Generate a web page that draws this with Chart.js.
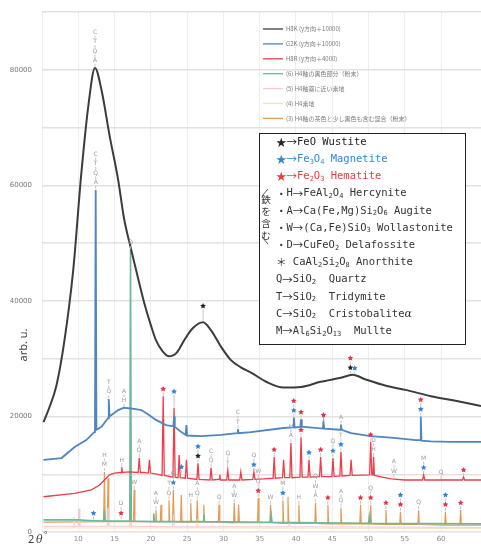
<!DOCTYPE html>
<html>
<head>
<meta charset="utf-8">
<style>html,body{margin:0;padding:0;background:#fff;overflow:hidden}</style>
<script src="https://cdn.jsdelivr.net/npm/chart.js@4.4.1/dist/chart.umd.min.js"></script>
</head>
<body>
<canvas id="xrd" width="481" height="547"></canvas>
<script>
// x = 2θ (deg), y = intensity (arb. u.)
var h8k = [[5.2,19000],[6.0,21500],[7.0,25400],[8.1,33200],[9.3,45300],[10.4,61800],[11.4,73900],[12.3,80300],[13.2,76500],[14.3,68700],[15.5,60900],[16.3,54300],[17.3,48800],[18.3,43600],[19.1,39600],[20.0,35800],[20.7,33200],[21.6,31300],[22.5,30400],[23.6,31100],[24.6,33200],[25.8,35300],[27.2,36300],[28.3,34900],[29.7,32000],[31.0,29800],[32.4,28500],[33.8,27600],[35.9,26000],[38.3,25000],[40.7,25100],[43.4,26000],[46.2,26700],[47.8,27200],[49.6,26400],[52.4,25300],[55.1,24600],[58.6,23500],[62.0,22700],[65.5,21800]];

var g2k = [[5.2,12500],[7.7,12800],[9.5,14700],[11.1,15900],[12.2,17300],[12.3,17400],[12.4,59200],[12.5,17700],[13.2,18200],[14.1,19700],[14.2,23000],[14.3,20000],[15.5,21100],[16.3,21500],[17.7,21300],[18.7,21100],[19.8,20200],[20.7,19400],[22.1,18500],[23.1,18300],[23.2,20000],[23.3,18200],[24.2,17300],[24.8,16800],[24.9,18500],[25.0,16700],[26.9,16600],[29.7,16800],[31.9,17100],[32.0,17800],[32.1,17100],[33.8,17300],[38.3,18000],[39.6,18100],[39.7,19800],[39.8,18100],[40.6,18200],[40.7,19500],[40.8,18200],[41.1,18200],[43.7,17900],[43.8,19000],[43.9,17900],[46.1,17700],[46.2,18600],[46.3,17700],[47.6,17100],[50.3,16600],[53.5,16300],[56.5,15900],[57.1,15900],[57.2,20000],[57.3,15800],[58.6,15700],[61.3,15600],[65.5,15600]];

var h8r = [[5.2,6100],[9.5,6700],[11.8,7300],[12.9,8100],[13.6,9000],[14.3,9900],[15.0,10200],[15.9,10300],[16.0,11200],[16.1,10300],[17.0,10400],[18.25,10300],[18.4,12800],[18.55,10300],[19.0,10300],[19.65,10200],[19.8,12500],[19.95,10200],[20.8,10000],[21.55,9800],[21.7,23500],[21.85,9800],[23.05,9500],[23.2,21500],[23.35,9500],[23.75,9400],[23.9,13300],[24.05,9400],[24.75,9300],[24.9,12500],[25.05,9300],[26.35,9100],[26.5,11900],[26.65,9100],[28.15,9000],[28.3,11100],[28.45,9000],[29.4,9100],[29.5,9900],[29.6,9000],[30.45,9000],[30.6,10700],[30.75,9000],[32.25,9000],[32.4,10400],[32.55,9000],[34.05,9100],[34.2,10400],[34.35,9100],[35.5,9200],[36.85,9300],[37.0,13000],[37.15,9300],[38.15,9400],[38.3,12500],[38.45,9400],[39.15,9400],[39.3,15400],[39.45,9400],[40.55,9500],[40.7,16400],[40.85,9500],[41.65,9500],[41.8,12500],[41.95,9500],[43.25,9600],[43.4,13000],[43.55,9600],[44.95,9600],[45.1,12800],[45.25,9600],[46.05,9700],[46.2,13900],[46.35,9700],[47.45,9800],[47.6,12500],[47.75,9800],[50.15,9900],[50.3,15600],[50.45,9900],[50.6,9900],[50.7,13000],[50.8,9800],[53.1,9200],[55.0,9000],[57.45,9000],[57.6,9900],[57.75,9000],[62.95,9000],[63.1,9500],[63.25,9000],[65.5,9000]];

var h4Black = [[5.2,2100],[10.0,2100],[11.5,2000],[13.5,1900],[13.6,3800],[13.7,1900],[17.1,1900],[17.2,48800],[17.3,1900],[20.3,1800],[20.4,3200],[20.5,1800],[27.2,1800],[27.3,3000],[27.4,1800],[36.5,1700],[36.6,2800],[36.7,1700],[50.0,1500],[50.1,2600],[50.2,1500],[65.5,1400]];

var h4Near = [[5.2,1000],[10.0,1000],[10.1,4000],[10.2,1000],[14.0,1000],[14.1,4200],[14.2,1000],[17.1,1000],[17.2,6500],[17.3,1000],[23.0,900],[23.1,3000],[23.2,900],[39.0,900],[39.1,2200],[39.2,900],[65.5,800]];

var h4Base = [[5.2,700],[9.3,700],[9.4,2600],[9.5,700],[17.1,700],[17.2,4200],[17.3,700],[26.3,700],[26.4,2200],[26.5,700],[65.5,600]];

var h4Mix = [[5.2,1700],[13.5,1800],[13.6,10400],[13.7,1800],[14.0,1800],[14.1,9300],[14.2,1800],[17.1,1800],[17.2,15900],[17.3,1800],[17.6,1800],[17.7,7300],[17.8,1800],[20.6,1800],[20.7,3800],[20.8,1800],[21.3,1800],[21.4,4700],[21.5,1800],[22.4,1800],[22.5,5500],[22.6,1800],[23.0,1800],[23.1,7300],[23.2,1800],[24.1,1700],[24.2,6400],[24.3,1700],[25.4,1700],[25.5,5000],[25.6,1700],[26.3,1700],[26.4,5500],[26.5,1700],[27.2,1700],[27.3,4700],[27.4,1700],[29.3,1700],[29.4,4700],[29.5,1700],[31.4,1600],[31.5,5000],[31.6,1600],[32.0,1600],[32.1,4700],[32.2,1600],[34.7,1600],[34.8,5900],[34.9,1600],[36.4,1600],[36.5,4700],[36.6,1600],[38.1,1500],[38.2,5500],[38.3,1500],[38.8,1500],[38.9,6100],[39.0,1500],[40.3,1500],[40.4,4700],[40.5,1500],[42.6,1500],[42.7,5000],[42.8,1500],[44.3,1400],[44.4,4700],[44.5,1400],[46.1,1400],[46.2,4200],[46.3,1400],[48.8,1400],[48.9,4700],[49.0,1400],[50.2,1400],[50.3,4700],[50.4,1400],[52.3,1300],[52.4,3800],[52.5,1300],[54.3,1300],[54.4,3500],[54.5,1300],[56.8,1300],[56.9,3800],[57.0,1300],[60.5,1200],[60.6,3500],[60.7,1200],[62.6,1200],[62.7,3800],[62.8,1200],[65.5,1200]];

var seriesNames = ["H8K (y方向＋10000)", "G2K (y方向＋10000)", "H8R (y方向＋4000)", "(6) H4釉の黒色部分（粉末）", "(5) H4釉薬に近い素地", "(4) H4素地", "(3) H4釉の茶色と少し黒色も含む混合（粉末）"];
var seriesColors = ["#3c3c3c", "#4f86c0", "#ee3d4c", "#6cb899", "#f2c9cf", "#f3e2b5", "#e59a55"];
var seriesWidths = [2, 1.8, 1.3, 1.6, 1, 1, 1.2];
var seriesData = [h8k, g2k, h8r, h4Black, h4Near, h4Base, h4Mix];

// peak identification tags: [2θ, peak top, tags from bottom to top]; *k *b *r = stars
var peakTags = [
  [12.3, 80300, ["A", "Q", "T", "C"]],
  [27.2, 36300, ["|", "*k"]],
  [47.5, 27200, ["*k", "*r"]],
  [48.1, 27100, ["*b"]],
  [12.4, 59200, ["A", "Q", "T", "C"]],
  [14.2, 23000, ["Q", "T"]],
  [16.3, 21500, ["H", "A"]],
  [17.2, 48800, ["Q"]],
  [23.2, 21500, ["|", "*b"]],
  [32.0, 17800, ["T", "C"]],
  [39.7, 19800, ["*b", "*r"]],
  [40.7, 19500, ["*r"]],
  [43.8, 19000, ["*r"]],
  [46.2, 18600, ["A"]],
  [57.2, 20000, ["*b", "*r"]],
  [21.7, 23500, ["*r"]],
  [18.4, 12800, ["Q", "A"]],
  [16.0, 11200, ["H"]],
  [24.2, 10000, ["*b"]],
  [26.5, 11900, ["*k", "*b"]],
  [28.3, 11100, ["Q", "C"]],
  [30.6, 10700, ["T", "Q"]],
  [34.2, 10400, ["*b", "Q"]],
  [37.0, 13000, ["*r"]],
  [39.3, 15400, ["A", "H"]],
  [40.7, 16400, ["*r"]],
  [41.8, 12500, ["*b"]],
  [43.4, 13000, ["*r"]],
  [45.1, 12800, ["*b", "Q"]],
  [46.2, 13900, ["*b", "T"]],
  [50.3, 15600, ["*r"]],
  [50.7, 13000, ["H", "D"]],
  [53.5, 9300, ["W", "A"]],
  [57.6, 9900, ["*b", "M"]],
  [60.0, 9000, ["Q"]],
  [63.1, 9500, ["*r"]],
  [12.1, 2000, ["*b"]],
  [13.6, 10400, ["M", "H"]],
  [15.9, 2000, ["*r", "D"]],
  [17.7, 7300, ["W"]],
  [20.7, 3800, ["W", "A"]],
  [22.5, 5500, ["Q", "T"]],
  [23.1, 7300, ["*b", "Q"]],
  [25.5, 5000, ["H"]],
  [26.4, 5500, ["Q", "A"]],
  [29.4, 4700, ["Q"]],
  [31.5, 5000, ["W", "A"]],
  [34.8, 5900, ["*r", "Q", "W"]],
  [36.5, 4700, ["W"]],
  [38.2, 5500, ["*b", "M"]],
  [40.4, 4700, ["H"]],
  [42.7, 5000, ["A", "W", "Q"]],
  [44.4, 4700, ["*r"]],
  [46.2, 4200, ["Q", "A"]],
  [48.9, 4700, ["*r"]],
  [50.3, 4700, ["*r", "Q"]],
  [52.4, 3800, ["*r"]],
  [54.4, 3500, ["*r", "*b"]],
  [56.9, 3800, ["Q"]],
  [60.6, 3500, ["*r", "*b"]],
  [62.7, 3800, ["*r"]]
];

var mineralLines = [
  ["★→FeO Wustite", "#222"],
  ["★→Fe_3O_4 Magnetite", "#2f86d6"],
  ["★→Fe_2O_3 Hematite", "#ee3b3b"],
  ["・H→FeAl_2O_4 Hercynite", "#333"],
  ["・A→Ca(Fe,Mg)Si_2O_6 Augite", "#333"],
  ["・W→(Ca,Fe)SiO_3 Wollastonite", "#333"],
  ["・D→CuFeO_2 Delafossite", "#333"],
  ["＊ CaAl_2Si_2O_8 Anorthite", "#333"],
  ["Q→SiO_2  Quartz", "#333"],
  ["T→SiO_2  Tridymite", "#333"],
  ["C→SiO_2  Cristobaliteα", "#333"],
  ["M→Al_6Si_2O_13  Mullte", "#333"]
];

var starColors = { k: "#222", b: "#2f86d6", r: "#e8314a" };

function drawStar(ctx, x, y, r, color) {
  ctx.beginPath();
  for (var i = 0; i < 10; i++) {
    var a = -Math.PI / 2 + i * Math.PI / 5;
    var rr = i % 2 ? r * 0.5 : r;
    ctx.lineTo(x + rr * Math.cos(a), y + rr * Math.sin(a));
  }
  ctx.closePath();
  ctx.fillStyle = color;
  ctx.fill();
}

function drawRich(ctx, str, x, y, color) {
  ctx.fillStyle = color;
  ctx.textBaseline = "middle";
  ctx.textAlign = "left";
  var i = 0;
  while (i < str.length) {
    var ch = str[i];
    if (ch === "_") {
      var j = i + 1, s = "";
      while (j < str.length && /[0-9]/.test(str[j])) { s += str[j]; j++; }
      ctx.font = '7px "DejaVu Sans Mono"';
      ctx.fillText(s, x, y + 2.5);
      x += ctx.measureText(s).width;
      i = j;
      continue;
    }
    var code = ch.charCodeAt(0);
    if (code >= 0x3b1 && code <= 0x3c9) ctx.font = 'italic 11px "DejaVu Serif"';
    else if (code > 0x2000) ctx.font = '10.5px "Noto Sans CJK JP"';
    else ctx.font = '10.5px "DejaVu Sans Mono"';
    ctx.fillText(ch, x, y);
    x += ctx.measureText(ch).width;
    i++;
  }
}

var decorations = {
  id: "decorations",
  beforeDraw: function (chart) {
    var ctx = chart.ctx;
    ctx.save();
    ctx.fillStyle = "#fff";
    ctx.fillRect(0, 0, chart.width, chart.height);
    ctx.restore();
  },
  afterDraw: function (chart) {
    var ctx = chart.ctx, xs = chart.scales.x, ys = chart.scales.y;
    ctx.save();
    // peak tags
    peakTags.forEach(function (p) {
      var px = xs.getPixelForValue(p[0]);
      var py = ys.getPixelForValue(p[1]) - 1;
      p[2].forEach(function (t) {
        ctx.strokeStyle = "#b8b8b8";
        ctx.lineWidth = 0.8;
        ctx.beginPath();
        ctx.moveTo(px, py);
        ctx.lineTo(px, py - 3);
        ctx.stroke();
        py -= 3;
        if (t === "|") {
          ctx.beginPath(); ctx.moveTo(px, py); ctx.lineTo(px, py - 6); ctx.stroke();
          py -= 6;
        } else if (t[0] === "*") {
          drawStar(ctx, px, py - 3.2, 3, starColors[t[1]]);
          py -= 6.5;
        } else {
          ctx.fillStyle = "#9a9a9a";
          ctx.font = '6px "DejaVu Sans"';
          ctx.textAlign = "center";
          ctx.textBaseline = "middle";
          ctx.fillText(t, px, py - 3.2);
          py -= 6.5;
        }
      });
    });

    // legend
    chart.data.datasets.forEach(function (ds, i) {
      var y = 29 + i * 14.9;
      ctx.strokeStyle = ds.borderColor;
      ctx.lineWidth = 1.3;
      ctx.beginPath(); ctx.moveTo(263, y); ctx.lineTo(283, y); ctx.stroke();
      ctx.fillStyle = "#7a7a7a";
      ctx.font = '6px "Noto Sans CJK JP"';
      ctx.textAlign = "left";
      ctx.textBaseline = "middle";
      ctx.fillText(ds.label, 286, y);
    });

    // mineral key box
    ctx.fillStyle = "#fff";
    ctx.fillRect(259, 133, 207, 212);
    ctx.strokeStyle = "#222";
    ctx.lineWidth = 1;
    ctx.strokeRect(259.5, 133.5, 206, 211);
    mineralLines.forEach(function (l, i) {
      drawRich(ctx, l[0], 276, 142 + i * 17.2, l[1]);
    });
    ctx.fillStyle = "#333";
    ctx.font = '9.5px "Noto Sans CJK JP"';
    ctx.textAlign = "center";
    ctx.textBaseline = "middle";
    ["鉄", "を", "含", "む"].forEach(function (c, i) {
      ctx.fillText(c, 266, 199 + i * 12);
    });
    ctx.strokeStyle = "#333";
    ctx.lineWidth = 0.8;
    ctx.beginPath(); ctx.moveTo(268, 189); ctx.lineTo(262, 196); ctx.stroke();
    ctx.beginPath(); ctx.moveTo(262, 237); ctx.lineTo(268, 244); ctx.stroke();

    // axis titles
    ctx.fillStyle = "#444";
    ctx.font = '11px "Noto Sans"';
    ctx.save();
    ctx.translate(24, 345);
    ctx.rotate(-Math.PI / 2);
    ctx.textAlign = "center";
    ctx.textBaseline = "middle";
    ctx.fillText("arb. u.", 0, 0);
    ctx.restore();
    ctx.textAlign = "left";
    ctx.textBaseline = "middle";
    ctx.font = '11px "Noto Sans"';
    ctx.fillText("2", 28, 540);
    ctx.font = 'italic 11px "DejaVu Serif"';
    ctx.fillText("θ", 36, 540);
    ctx.font = '8px "Noto Sans"';
    ctx.fillText("°", 44, 536);
    ctx.restore();
  }
};

new Chart(document.getElementById("xrd"), {
  type: "line",
  data: {
    datasets: seriesData.map(function (d, i) {
      return {
        label: seriesNames[i],
        data: d.map(function (p) { return { x: p[0], y: p[1] }; }),
        borderColor: seriesColors[i],
        borderWidth: seriesWidths[i],
        pointRadius: 0,
        fill: false,
        tension: 0,
        cubicInterpolationMode: i === 0 ? "monotone" : "default"
      };
    })
  },
  options: {
    responsive: false,
    animation: false,
    events: [],
    layout: { padding: { top: 12, right: 0, left: 0, bottom: 0 } },
    plugins: { legend: { display: false }, tooltip: { enabled: false } },
    scales: {
      x: {
        type: "linear",
        min: 5,
        max: 65.5,
        border: { display: false },
        grid: { color: "#eeeeee", lineWidth: 1, drawTicks: false },
        ticks: {
          stepSize: 5,
          padding: 3,
          color: "#8a8a8a",
          font: { size: 7, family: "DejaVu Sans" },
          maxRotation: 0,
          autoSkip: false,
          callback: function (v) { return (v % 5 === 0 && v > 5) ? v : ""; }
        },
        afterFit: function (s) { s.height = 15; s.paddingLeft = 0; s.paddingRight = 0; }
      },
      y: {
        min: 0,
        max: 90000,
        border: { display: false },
        grid: { color: "#e2e2e2", lineWidth: 1.4, drawTicks: false },
        ticks: {
          stepSize: 10000,
          padding: 10,
          color: "#777",
          font: { size: 7, family: "DejaVu Sans" },
          callback: function (v) { return v % 20000 === 0 ? v : ""; }
        },
        afterFit: function (s) { s.width = 42; s.paddingTop = 0; s.paddingBottom = 0; }
      }
    }
  },
  plugins: [decorations]
});
</script>
</body>
</html>
